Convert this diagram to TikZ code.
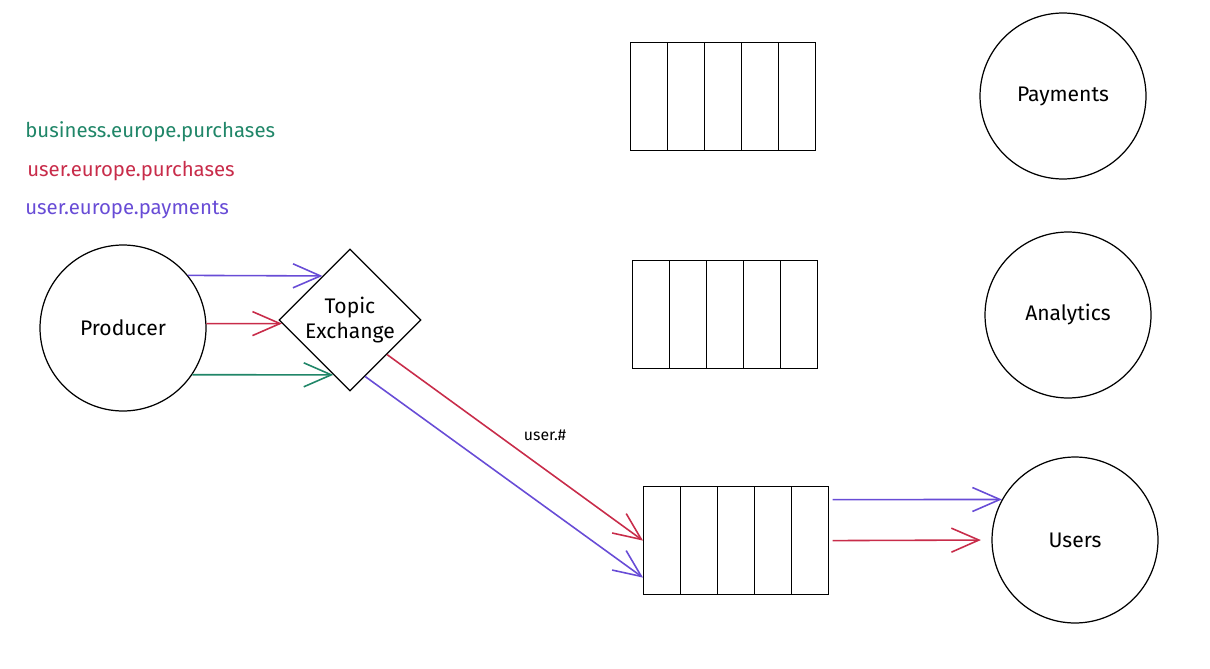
\documentclass[tikz,border=0pt]{standalone}
\usepackage{fontspec}
\setmainfont{Fira Sans}
\usetikzlibrary{shapes.geometric,arrows.meta,positioning}
\definecolor{msggreen}{RGB}{32,134,104}
\definecolor{msgred}{RGB}{200,44,74}
\definecolor{msgpurple}{RGB}{104,76,214}
\tikzset{
  service/.style={draw,circle,minimum size=3.32cm,inner sep=0pt,line width=0.7pt,font=\fontsize{12}{14}\selectfont},
  exchange/.style={draw,diamond,minimum size=2.84cm,inner sep=0pt,line width=0.7pt,align=center,font=\fontsize{12}{14}\selectfont},
  cell/.style={draw,rectangle,minimum width=0.74cm,minimum height=2.16cm,inner sep=0pt,line width=0.7pt},
  route/.style={line width=0.9pt,-{Straight Barb[length=5.5mm,width=4.8mm]}},
  key/.style={anchor=west,inner sep=0pt,font=\fontsize{11.6}{14}\selectfont}
}
\begin{document}
\begin{tikzpicture}[x=0.02cm,y=-0.02cm]
  \useasboundingbox (0,0) rectangle (1210,669);
  % routing keys
  \node[key,text=msggreen] (kbiz) at (25,132) {business.europe.purchases};
  \node[key,text=msgred] (kbuy) at (27,171) {user.europe.purchases};
  \node[key,text=msgpurple] (kpay) at (25,210) {user.europe.payments};
  % producer and exchange
  \node[service] (prod) at (123,328) {Producer};
  \node[exchange] (exch) at (350,320) {Topic\\Exchange};
  % queues
  \foreach \q/\x/\y in {qa/630/42, qb/632/260, qc/643/486} {
    \node[cell,anchor=north west] (\q1) at (\x,\y) {};
    \foreach \i/\j in {1/2,2/3,3/4,4/5}
      \node[cell,right=-0.7pt of \q\i] (\q\j) {};
  }
  % consumers
  \node[service] (pay) at (1063,96) {Payments};
  \node[service] (ana) at (1068,315) {Analytics};
  \node[service] (users) at (1075,540) {Users};
  % messages
  \draw[route,msgpurple] (prod.39) -- (exch.122);
  \draw[route,msgred] (prod.3) -- (exch.183);
  \draw[route,msggreen] (prod.-34) -- (exch.253);
  \draw[route,msgred] (exch.-43) -- (qc1.west);
  \draw[route,msgpurple] (exch.-75) -- ([yshift=-0.74cm]qc1.west);
  \node[font=\small] (bind) at (545,435) {user.\#};
  \draw[route,msgpurple,shorten <=2pt] ([yshift=0.82cm]qc5.east) -- (users.151);
  \draw[route,msgred,shorten <=2pt,shorten >=6pt] (qc5.east) -- (users.west);
\end{tikzpicture}
\end{document}
